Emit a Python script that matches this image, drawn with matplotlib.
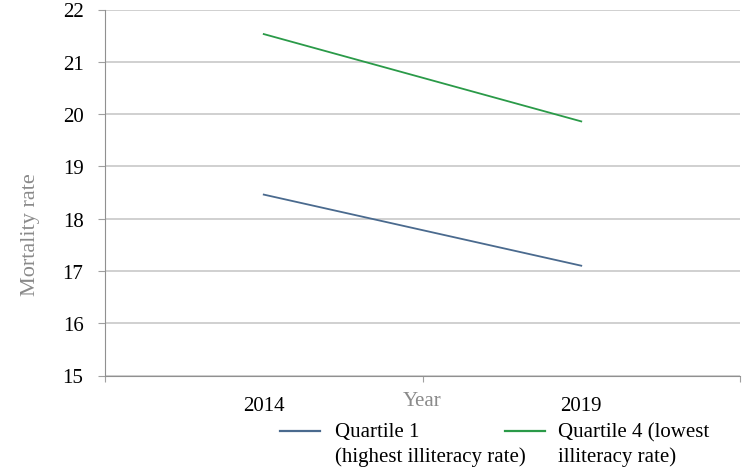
import matplotlib
matplotlib.use("Agg")
import matplotlib.pyplot as plt
from matplotlib.ticker import FixedLocator
from matplotlib.lines import Line2D

years = ["2014", "2019"]
q1 = [18.46, 17.10]
q4 = [21.53, 19.86]
series_labels = ["Quartile 1\n(highest illiteracy rate)", "Quartile 4 (lowest\nilliteracy rate)"]
yticks = [15, 16, 17, 18, 19, 20, 21, 22]

plt.rcParams['font.family'] = ['Liberation Serif', 'DejaVu Serif']

W, H = 744, 477
fig = plt.figure(figsize=(W / 100, H / 100), dpi=100)
ax = fig.add_axes([105 / W, 1 - 376.5 / H, 635 / W, 366 / H])

x = list(range(len(years)))
l1, = ax.plot(x, q1, color="#4A6A8E", lw=1.3, label=series_labels[0])
l4, = ax.plot(x, q4, color="#2A9A48", lw=1.3, label=series_labels[1])

ax.set_xlim(-0.5, 1.5)
ax.set_ylim(15, 22)
ax.set_yticks(yticks)
ax.set_yticklabels([str(v) for v in yticks], fontsize=15)
ax.set_xticks(x)
ax.set_xticklabels(years, fontsize=15)
ax.xaxis.set_minor_locator(FixedLocator([-0.5, 0.5, 1.5]))
ax.tick_params(axis='x', which='major', length=0, pad=15)
ax.tick_params(axis='x', which='minor', length=4, color="#A0A0A0", width=0.8)
ax.tick_params(axis='y', length=5, color="#A0A0A0", width=0.8, pad=10.5)
ax.grid(axis='y', color="#C8C8C8", lw=1.2)
ax.set_axisbelow(True)
for s in ["top", "right"]:
    ax.spines[s].set_visible(False)
ax.spines["left"].set_color("#909090")
ax.spines["bottom"].set_color("#909090")

ax.set_ylabel("Mortality rate", fontsize=16, color="#8A8A8A", va="center")
ax.yaxis.set_label_coords(-75 / 635, (376.5 - 235) / 366)
ax.set_xlabel("Year", fontsize=15, color="#8A8A8A", va="center")
ax.xaxis.set_label_coords(0.5, (376.5 - 401) / 366)

# legend (manually placed entries, like the reference layout)
entries = [(l1, 280, 335), (l4, 505, 558)]
yl = 1 - 432 / H
yc = 1 - 445 / H
for line, hx, tx in entries:
    fig.add_artist(Line2D([hx / W, (hx + 40) / W], [yl, yl], color=line.get_color(),
                          lw=1.6, transform=fig.transFigure))
    fig.text(tx / W, yc, line.get_label(), fontsize=15, va="center",
             ha="left", linespacing=1.35, color="black",
             transform=fig.transFigure)

fig.savefig("out.png", dpi=100)
